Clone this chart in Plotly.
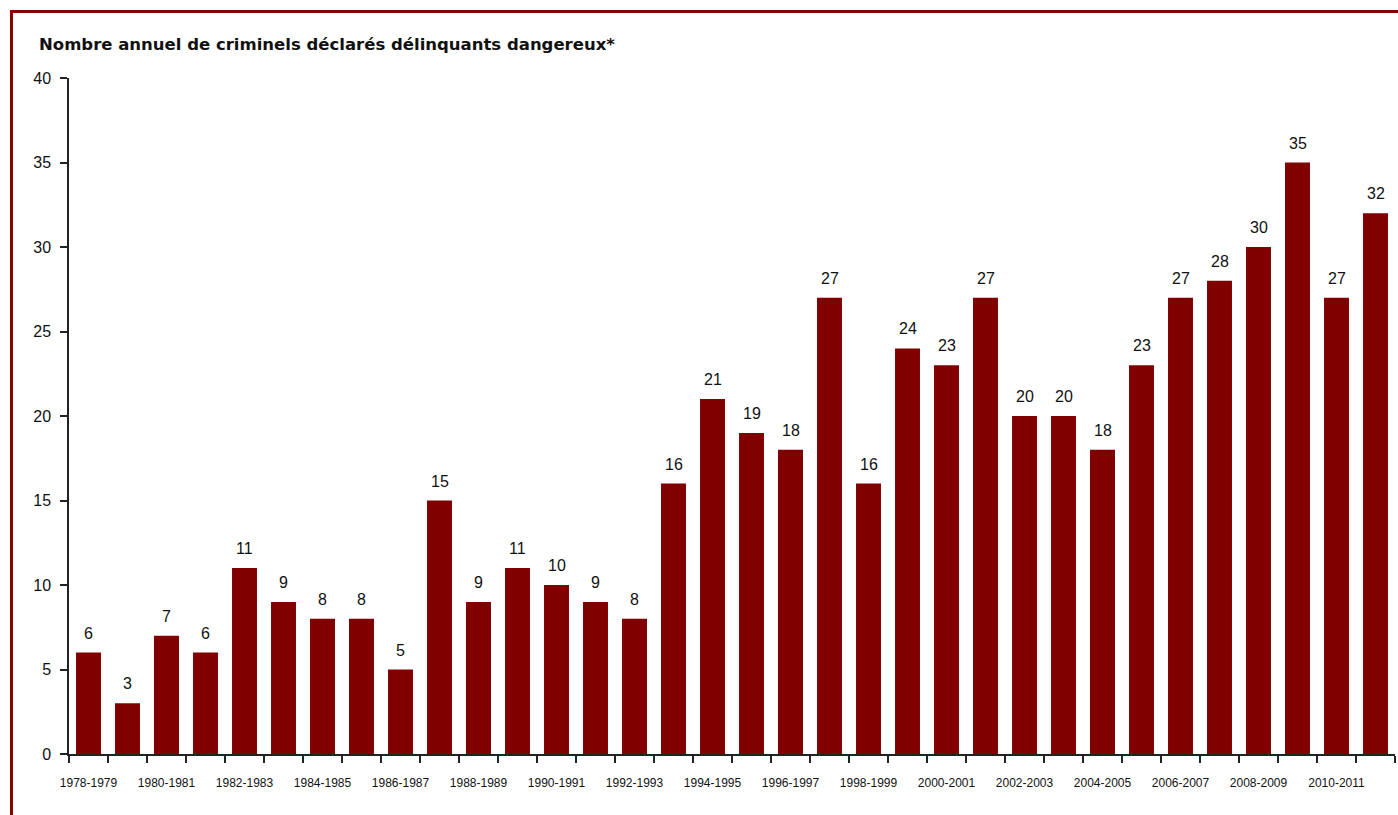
import plotly.graph_objects as go

years = [f"{y}-{y+1}" for y in range(1978, 2012)]
values = [6, 3, 7, 6, 11, 9, 8, 8, 5, 15, 9, 11, 10, 9, 8, 16, 21, 19, 18, 27,
          16, 24, 23, 27, 20, 20, 18, 23, 27, 28, 30, 35, 27, 32]
title = "Nombre annuel de criminels déclarés délinquants dangereux*"

W, H = 1398, 815
L, R, T, B = 69, 3, 78, 61
pw, ph = W - L - R, H - T - B

idx = list(range(len(years)))
fig = go.Figure(go.Bar(
    x=idx, y=values, marker_color="#800000", marker_line_width=0,
    width=0.64,
))

label_anns = [dict(
    x=i, y=v, xref="x", yref="y", text=str(v), showarrow=False,
    xanchor="center", yanchor="bottom", yshift=9,
    font=dict(family="Liberation Sans, Arial", size=16, color="#111111"),
) for i, v in zip(idx, values)]

fig.update_layout(
    width=W, height=H, margin=dict(l=L, r=R, t=T, b=B),
    paper_bgcolor="white", plot_bgcolor="white",
    showlegend=False, bargap=0.36,
    font=dict(family="Liberation Sans, Arial", color="#111111"),
    xaxis=dict(
        range=[-0.5, len(years) - 0.5],
        tickvals=idx[::2], ticktext=years[::2],
        ticks="", showgrid=False, zeroline=False,
        showline=True, linecolor="#222222", linewidth=1.5,
        tickfont=dict(size=12, family="Liberation Sans Narrow, Liberation Sans, Arial"),
        ticklabelstandoff=17,
        minor=dict(tickvals=[i - 0.5 for i in range(len(years) + 1)],
                   ticks="outside", ticklen=7, tickcolor="#222222", tickwidth=1.5),
    ),
    yaxis=dict(
        range=[0, 40], dtick=5, ticks="outside", ticklen=7, tickcolor="#222222",
        tickwidth=1.5, showgrid=False, zeroline=False, showline=True,
        linecolor="#222222", linewidth=1.5,
        tickfont=dict(size=16), ticklabelstandoff=6,
    ),
    annotations=label_anns + [dict(
        text="<b>" + title + "</b>", xref="paper", yref="paper",
        x=(37 - L) / pw, y=1 + (T - 45) / ph, xanchor="left", yanchor="middle",
        showarrow=False, font=dict(size=16.5, color="#111111", family="DejaVu Sans"),
    )],
    shapes=[dict(
        type="rect", xref="paper", yref="paper",
        x0=(11.5 - L) / pw, x1=1 + 20 / pw, y0=-(B + 20) / ph, y1=1 + (T - 11.5) / ph,
        line=dict(color="#8B0000", width=3), fillcolor="rgba(0,0,0,0)", layer="above",
    )],
)

fig.write_html("out.html")
